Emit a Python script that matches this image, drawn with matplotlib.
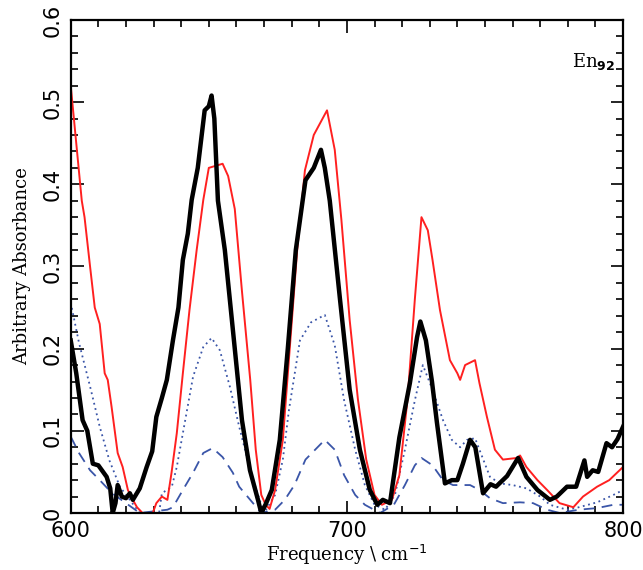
import numpy as np
from matplotlib import pyplot as plt
from matplotlib.ticker import MultipleLocator

# measured spectrum (thick black)
x_meas = [600, 602, 604.3, 606, 608, 610, 613, 614.3, 615.2, 616.2, 617, 618.5, 620, 621.4, 622.5,
          625, 627.5, 629.5, 631, 633, 634.8, 637, 639, 640.6, 642.4, 643.8, 646, 648.5, 650, 651, 652,
          653.3, 655.8, 659.4, 662, 664.9, 667.8, 669, 670.5, 672.8, 675.7, 678.6, 681.5, 685, 688,
          690.6, 692, 693.8, 697.5, 701, 704.7, 708.3, 711, 713, 715.6, 719, 722.8, 725.4, 726.6, 728.6,
          730.8, 732.6, 735.5, 738, 740, 742, 744.6, 746.5, 749.3, 752, 754, 758, 762, 765, 769, 773.5,
          776, 779.7, 783, 786, 787, 789, 791, 794, 796, 798, 800]
y_meas = [0.21, 0.17, 0.113, 0.1, 0.06, 0.058, 0.044, 0.03, 0.0, 0.012, 0.034, 0.02, 0.018, 0.024, 0.016,
          0.03, 0.056, 0.075, 0.117, 0.14, 0.162, 0.21, 0.25, 0.308, 0.34, 0.381, 0.42, 0.49, 0.495, 0.508, 0.48,
          0.38, 0.32, 0.2, 0.113, 0.052, 0.016, 0.0, 0.01, 0.028, 0.089, 0.2, 0.32, 0.405, 0.42,
          0.442, 0.42, 0.38, 0.26, 0.15, 0.077, 0.028, 0.01, 0.016, 0.012, 0.092, 0.158, 0.214, 0.233, 0.21,
          0.16, 0.11, 0.036, 0.04, 0.04, 0.06, 0.089, 0.08, 0.024, 0.035, 0.032, 0.045, 0.067, 0.044, 0.028, 0.016,
          0.02, 0.032, 0.032, 0.064, 0.044, 0.052, 0.05, 0.085, 0.08, 0.09, 0.105]

# model spectrum (red)
x_red = [600, 602, 604, 605, 607, 608.7, 610.5, 612.3, 613.4, 614.8, 617, 618.8, 620.7, 622.5, 624, 626,
         629.7, 631, 633, 635, 636.5, 638.4, 640.6, 643, 645.6, 648, 650, 655, 657, 659.4, 662, 665, 667,
         669, 670.6, 672, 674, 676.8, 679.3, 682, 684.8, 688, 692.8, 695.6, 698, 701, 704, 707, 710,
         712.7, 716.3, 719, 722, 724.6, 727, 729.3, 731, 733.7, 737.3, 740, 741, 742.8, 746.4, 748, 750.7,
         753.6, 756.5, 761.6, 762.7, 765, 769, 772.5, 777, 782, 785.5, 790.6, 795, 797.8, 800]
y_red = [0.52, 0.45, 0.38, 0.36, 0.3, 0.25, 0.23, 0.17, 0.162, 0.129, 0.073, 0.056, 0.028, 0.016, 0.007, 0.0,
         0.0, 0.012, 0.02, 0.016, 0.049, 0.097, 0.17, 0.247, 0.32, 0.381, 0.42, 0.425, 0.41, 0.37, 0.27, 0.162, 0.077,
         0.022, 0.01, 0.005, 0.028, 0.089, 0.2, 0.32, 0.417, 0.46, 0.49, 0.442, 0.357, 0.235, 0.138, 0.065, 0.022,
         0.01, 0.016, 0.046, 0.14, 0.26, 0.36, 0.344, 0.308, 0.247, 0.186, 0.17, 0.162, 0.18, 0.186, 0.158, 0.117,
         0.077, 0.065, 0.067, 0.07, 0.056, 0.04, 0.028, 0.012, 0.007, 0.02, 0.032, 0.04, 0.049, 0.056]

# blue dotted
x_dot = [600, 603, 607, 610.5, 614, 617.8, 621.4, 625, 632, 633, 636.6, 638.4, 640.6, 644.3, 648, 651,
         654, 657.6, 661, 665, 667.8, 670, 674, 676.8, 679, 683, 687, 692, 695.6, 699, 703, 706.5, 710,
         713.8, 717.4, 721, 724.6, 727.5, 731, 734.8, 738, 741, 743.5, 746.4, 748, 751.8, 755.4, 760, 765,
         770, 773.5, 779.7, 784, 790.6, 796.5, 800]
y_dot = [0.256, 0.207, 0.154, 0.105, 0.064, 0.032, 0.016, 0.0, 0.0, 0.024, 0.032, 0.056, 0.097, 0.166, 0.202, 0.213,
         0.198, 0.154, 0.105, 0.052, 0.022, 0.0, 0.022, 0.065, 0.125, 0.21, 0.232, 0.241, 0.204, 0.137, 0.077, 0.034, 0.01,
         0.004, 0.022, 0.077, 0.137, 0.18, 0.15, 0.113, 0.089, 0.08, 0.089, 0.091, 0.077, 0.044, 0.036, 0.034, 0.03,
         0.02, 0.01, 0.004, 0.007, 0.013, 0.022, 0.028]

# blue dashed
x_dash = [600, 603, 607, 610.5, 615, 620, 625, 635, 637, 640.6, 644.3, 648, 651.4, 655, 658.7, 661,
          665, 669, 674, 677.5, 681, 685, 692, 695.6, 699, 703, 706.5, 712, 717, 721, 724.6, 727,
          731, 734.8, 738.4, 744.6, 748, 751.8, 756.5, 762.7, 767.4, 772.5, 777, 784, 790.6, 796.5, 800]
y_dash = [0.093, 0.073, 0.052, 0.04, 0.024, 0.012, 0.0, 0.004, 0.007, 0.028, 0.049, 0.073, 0.079, 0.068, 0.049, 0.032,
          0.016, 0.0, 0.004, 0.016, 0.034, 0.065, 0.089, 0.077, 0.046, 0.022, 0.01, 0.0, 0.01, 0.034, 0.058, 0.067,
          0.058, 0.04, 0.034, 0.034, 0.028, 0.018, 0.012, 0.013, 0.012, 0.004, 0.0, 0.004, 0.006, 0.01, 0.01]

blue = '#3a55a8'

fig = plt.figure(figsize=(6.43, 5.70), dpi=100)
ax = fig.add_axes([0.110, 0.100, 0.859, 0.865])

ax.plot(x_dash, y_dash, color=blue, lw=1.3, linestyle=(0, (6, 4)))
ax.plot(x_dot, y_dot, color=blue, lw=1.3, linestyle=(0, (1, 2)))
ax.plot(x_red, y_red, color='#ff2020', lw=1.4)
ax.plot(x_meas, y_meas, color='black', lw=3.2)

ax.set_xlim(600, 800)
ax.set_ylim(0, 0.6)
ax.xaxis.set_major_locator(MultipleLocator(100))
ax.xaxis.set_minor_locator(MultipleLocator(10))
ax.yaxis.set_major_locator(MultipleLocator(0.1))
ax.yaxis.set_minor_locator(MultipleLocator(0.02))
ax.yaxis.set_major_formatter(plt.FuncFormatter(lambda v, p: '0' if abs(v) < 1e-9 else f'{v:.1f}'))
ax.tick_params(which='both', direction='in', top=True, right=True, width=1.2)
ax.tick_params(which='major', length=9, labelsize=15, pad=6)
ax.tick_params(which='minor', length=5)
for lab in ax.get_yticklabels():
    lab.set_rotation(90)
    lab.set_va('center')
for s in ax.spines.values():
    s.set_linewidth(1.6)

ax.set_xlabel('Frequency \\ cm$^{-1}$', family='DejaVu Serif', fontsize=13, labelpad=1)
ax.set_ylabel('Arbitrary Absorbance', family='DejaVu Serif', fontsize=13, labelpad=8)
ax.text(0.985, 0.915, 'En$_{\\mathbf{92}}$', transform=ax.transAxes, ha='right', va='center',
        family='DejaVu Serif', fontsize=13)

fig.savefig('out.png', dpi=100)
